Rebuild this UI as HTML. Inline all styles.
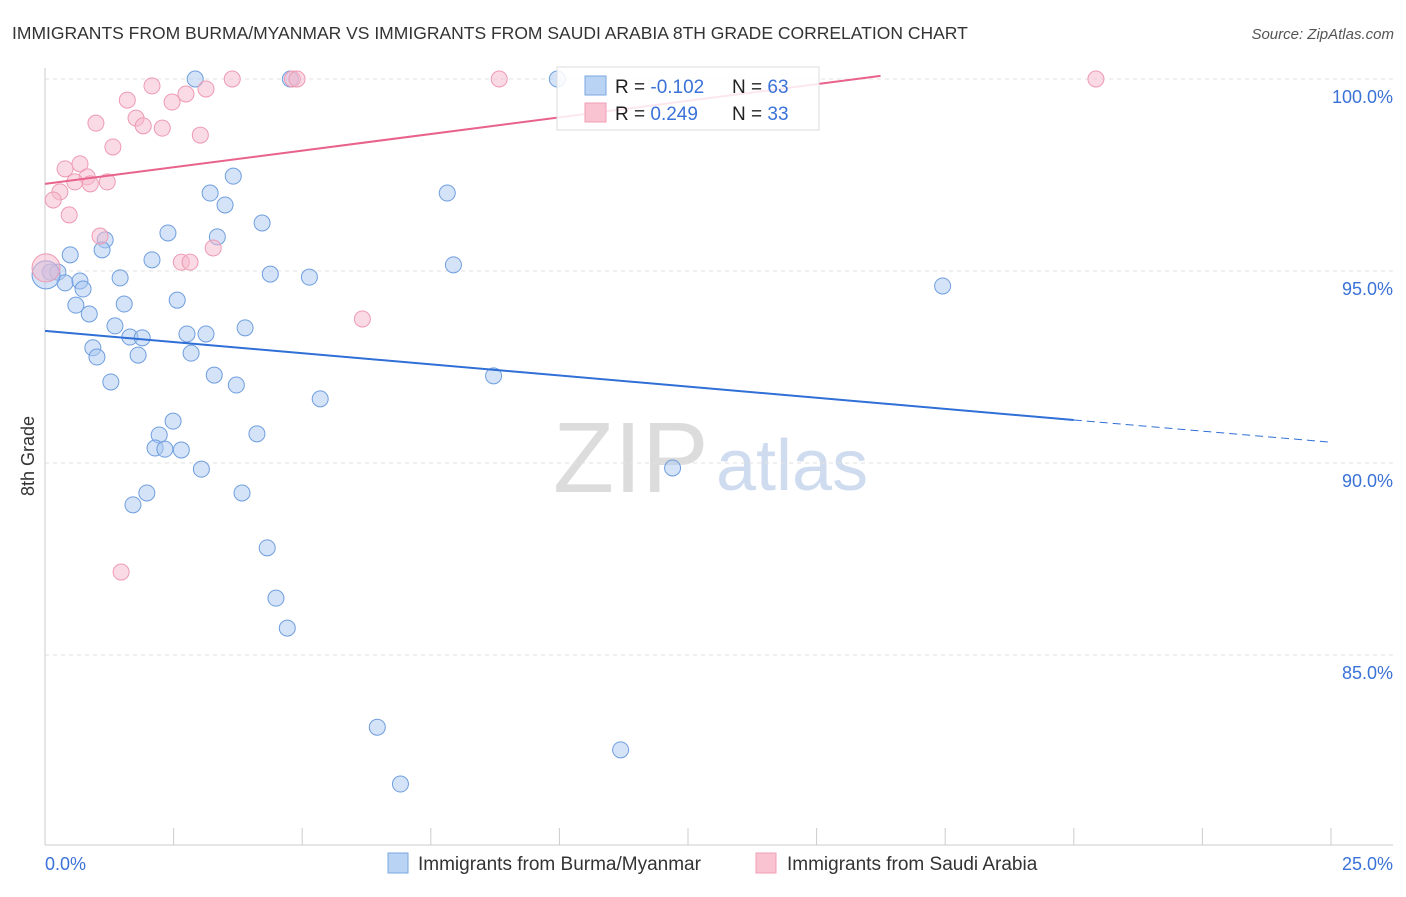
<!DOCTYPE html>
<html><head><meta charset="utf-8"><style>
body{margin:0;background:#fff;font-family:"Liberation Sans",sans-serif;}
svg text{font-family:"Liberation Sans",sans-serif;}
</style></head><body>
<svg id="chart" width="1406" height="892" viewBox="0 0 1406 892" xmlns="http://www.w3.org/2000/svg">
<text x="12" y="39" font-size="17.5" fill="#333">IMMIGRANTS FROM BURMA/MYANMAR VS IMMIGRANTS FROM SAUDI ARABIA 8TH GRADE CORRELATION CHART</text>
<text x="1394" y="39" font-size="15" fill="#555" text-anchor="end" font-style="italic">Source: ZipAtlas.com</text>
<g>
<text x="553" y="492" font-size="100" fill="#dcdcdc" font-family="Liberation Serif,serif">ZIP</text>
<text x="716" y="490" font-size="72" fill="#cfdcf0">atlas</text>
</g>
<g id="grid"></g>
<g id="axes"></g>
<g id="marks"></g>
<g id="trends"></g>
<g>
<rect x="557" y="67" width="262" height="63" fill="#fff" fill-opacity="0.85" stroke="#ddd"/>
<rect x="585" y="76" width="21" height="19" fill="#b9d3f5" stroke="#7aa7e0"/>
<rect x="585" y="103" width="21" height="19" fill="#f9c3d2" stroke="#ef9fb6"/>
<text x="615" y="93" font-size="19" fill="#222">R = <tspan fill="#3a72d8">-0.102</tspan></text>
<text x="732" y="93" font-size="19" fill="#222">N = <tspan fill="#3a72d8">63</tspan></text>
<text x="615" y="120" font-size="19" fill="#222">R = <tspan fill="#3a72d8"> 0.249</tspan></text>
<text x="732" y="120" font-size="19" fill="#222">N = <tspan fill="#3a72d8">33</tspan></text>
</g>
<g>
<rect x="388" y="853" width="20" height="20" fill="#b9d3f5" stroke="#7aa7e0"/>
<text x="418" y="870" font-size="19" fill="#333">Immigrants from Burma/Myanmar</text>
<rect x="756" y="853" width="20" height="20" fill="#f9c3d2" stroke="#ef9fb6"/>
<text x="787" y="870" font-size="19" fill="#333">Immigrants from Saudi Arabia</text>
</g>
<text transform="translate(34,456) rotate(-90)" font-size="18" fill="#333" text-anchor="middle">8th Grade</text>
</svg>
<script>
const yTicks=[100,95,90,85];
const yTickLabels=["100.0%","95.0%","90.0%","85.0%"];
const xTickValues=[0,2.5,5,7.5,10,12.5,15,17.5,20,22.5,25];
const xEndLabels=["0.0%","25.0%"];
const blueX=[2.92,4.77,9.96,3.66,3.21,3.50,7.82,4.22,2.39,3.35,1.17,1.11,0.49,2.08,7.94,0.10,0.25,0.39,0.68,0.74,1.46,4.38,5.14,17.45,2.57,1.54,0.60,0.86,1.36,3.89,2.76,3.13,1.65,1.89,0.93,1.01,1.81,2.84,3.29,8.72,1.28,3.72,5.35,2.49,2.22,4.12,2.14,2.33,2.65,3.04,12.2,1.98,3.83,1.71,4.32,4.49,4.71,6.46,11.19,6.91,0.02];
const blueY=[100,100,100,97.47,97.03,96.72,97.03,96.25,95.99,95.89,95.81,95.55,95.42,95.29,95.16,94.97,94.97,94.69,94.74,94.53,94.82,94.92,94.84,94.61,94.24,94.14,94.11,93.88,93.57,93.52,93.36,93.36,93.28,93.26,93.0,92.76,92.81,92.86,92.29,92.27,92.11,92.03,91.67,91.09,90.73,90.76,90.39,90.36,90.34,89.84,89.87,89.22,89.22,88.91,87.79,86.48,85.70,83.12,82.53,81.64,94.9];
const blueSize=[8,8,8,8,8,8,8,8,8,8,8,8,8,8,8,8,8,8,8,8,8,8,8,8,8,8,8,8,8,8,8,8,8,8,8,8,8,8,8,8,8,8,8,8,8,8,8,8,8,8,8,8,8,8,8,8,8,8,8,8,14];
const pinkX=[4.81,3.64,4.90,8.83,20.43,2.08,3.13,2.74,2.47,1.60,0.99,1.77,1.91,2.28,3.02,1.32,0.68,0.39,0.82,0.58,0.88,1.21,0.29,0.16,0.47,1.07,3.27,2.65,2.82,6.17,1.48,0.02];
const pinkY=[100,100,100,100,100,99.82,99.74,99.61,99.40,99.45,98.85,98.98,98.78,98.72,98.54,98.23,97.79,97.66,97.45,97.32,97.27,97.32,97.06,96.85,96.46,95.91,95.60,95.23,95.23,93.75,87.16,95.08];
const pinkSize=[8,8,8,8,8,8,8,8,8,8,8,8,8,8,8,8,8,8,8,8,8,8,8,8,8,8,8,8,8,8,8,14];
const blueTrend=[93.44,-0.116]; // intercept, slope
const pinkTrend=[97.27,0.173];
const NS="http://www.w3.org/2000/svg";
const xs=v=>45+v*51.44, ys=v=>79+(100-v)*38.4;
function mk(tag,attrs,parent){const e=document.createElementNS(NS,tag);for(const k in attrs)e.setAttribute(k,attrs[k]);parent.appendChild(e);return e;}
const grid=document.getElementById('grid'),axes=document.getElementById('axes'),marks=document.getElementById('marks'),trends=document.getElementById('trends');
yTicks.forEach((t,i)=>{
 const l=mk('line',{x1:45,x2:1393,y1:ys(t),y2:ys(t),stroke:'#e2e2e2','stroke-dasharray':'4,4'},grid);
 
 
 const tx=mk('text',{x:1393,y:ys(t)+24,'font-size':18,fill:'#3a72d8','text-anchor':'end'},axes);
 tx.textContent=yTickLabels[i];
 
 
});
mk('line',{x1:45,x2:45,y1:68,y2:845,stroke:'#ccc'},axes);
mk('line',{x1:45,x2:1393,y1:845,y2:845,stroke:'#ccc'},axes);
xTickValues.forEach(t=>{const l=mk('line',{x1:xs(t),x2:xs(t),y1:828,y2:845,stroke:'#ccc'},axes);
 
 });
const xl0=mk('text',{x:45,y:870,'font-size':18,fill:'#3a72d8'},axes);xl0.textContent=xEndLabels[0];


const xl1=mk('text',{x:1393,y:870,'font-size':18,fill:'#3a72d8','text-anchor':'end'},axes);xl1.textContent=xEndLabels[1];


blueX.forEach((x,i)=>{const c=mk('circle',{cx:xs(x),cy:ys(blueY[i]),r:blueSize[i],fill:'#a9c8f2','fill-opacity':0.5,stroke:'#6f9ede','stroke-width':1},marks);
 
 });
pinkX.forEach((x,i)=>{const c=mk('circle',{cx:xs(x),cy:ys(pinkY[i]),r:pinkSize[i],fill:'#f6b8cb','fill-opacity':0.5,stroke:'#ee9ab3','stroke-width':1},marks);
 
 });
const bt=v=>blueTrend[0]+blueTrend[1]*v, pt=v=>pinkTrend[0]+pinkTrend[1]*v;
const b1=mk('line',{x1:xs(0),y1:ys(bt(0)),x2:xs(20),y2:ys(bt(20)),stroke:'#2f6fd6','stroke-width':2},trends);


const b2=mk('line',{x1:xs(20),y1:ys(bt(20)),x2:xs(25),y2:ys(bt(25)),stroke:'#2f6fd6','stroke-width':1,'stroke-dasharray':'8,5'},trends);


const pEnd=(100.08-pinkTrend[0])/pinkTrend[1];
const p1=mk('line',{x1:xs(0),y1:ys(pt(0)),x2:xs(pEnd),y2:ys(pt(pEnd)),stroke:'#e8628c','stroke-width':2},trends);


</script>
</body></html>
